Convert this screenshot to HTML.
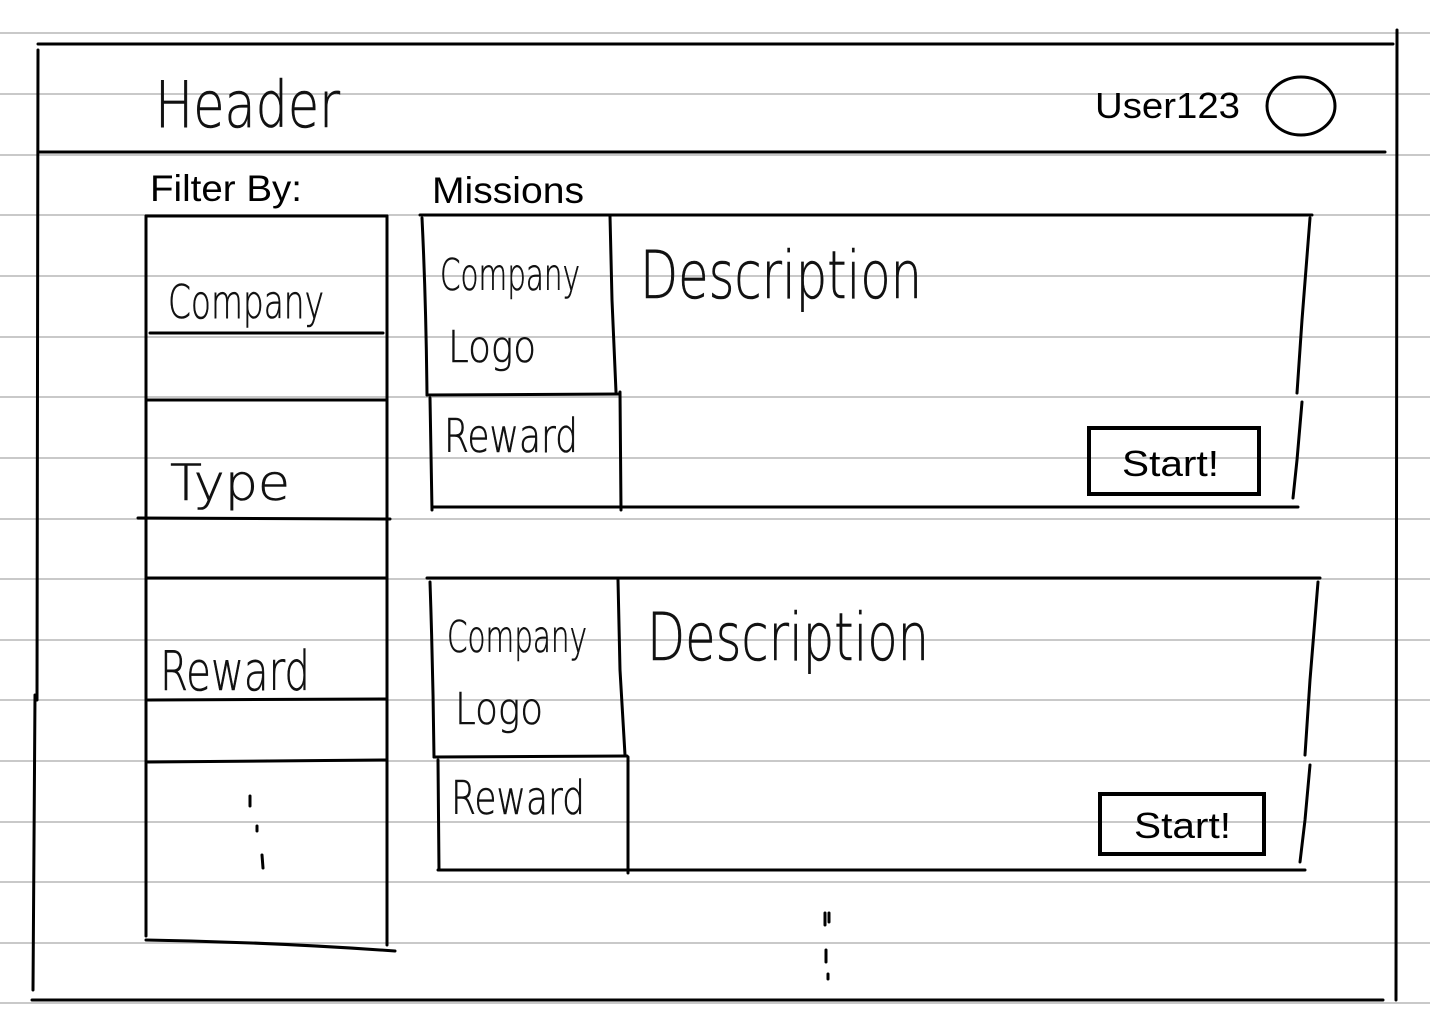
<!DOCTYPE html>
<html><head><meta charset="utf-8"><style>
html,body{margin:0;padding:0;background:#fff;width:1430px;height:1018px;overflow:hidden}
svg{display:block}
.h{font-family:"DejaVu Sans","Liberation Sans",sans-serif;font-weight:200;fill:#111;stroke:#111;stroke-width:0.6}
.t{font-family:"Liberation Sans",sans-serif;fill:#000}
</style></head><body>
<svg width="1430" height="1018" viewBox="0 0 1430 1018" xmlns="http://www.w3.org/2000/svg">
<g stroke="#c9c9c9" stroke-width="2">
<line x1="0" y1="33" x2="1430" y2="33"/>
<line x1="0" y1="94" x2="1430" y2="94"/>
<line x1="0" y1="155" x2="1430" y2="155"/>
<line x1="0" y1="215" x2="1430" y2="215"/>
<line x1="0" y1="276" x2="1430" y2="276"/>
<line x1="0" y1="337" x2="1430" y2="337"/>
<line x1="0" y1="397" x2="1430" y2="397"/>
<line x1="0" y1="458" x2="1430" y2="458"/>
<line x1="0" y1="519" x2="1430" y2="519"/>
<line x1="0" y1="579" x2="1430" y2="579"/>
<line x1="0" y1="640" x2="1430" y2="640"/>
<line x1="0" y1="700" x2="1430" y2="700"/>
<line x1="0" y1="761" x2="1430" y2="761"/>
<line x1="0" y1="822" x2="1430" y2="822"/>
<line x1="0" y1="882" x2="1430" y2="882"/>
<line x1="0" y1="943" x2="1430" y2="943"/>
<line x1="0" y1="1003" x2="1430" y2="1003"/>
</g>
<g stroke="#000" stroke-width="3" fill="none" stroke-linecap="round">
<line x1="38" y1="44" x2="1393" y2="44"/>
<path d="M38 50 L37 700 M35 695 L33 990"/>
<line x1="32" y1="1000" x2="1383" y2="1000"/>
<line x1="1397" y1="30" x2="1396" y2="1000"/>
<line x1="38" y1="152" x2="1385" y2="152"/>
<ellipse cx="1301" cy="106" rx="34" ry="29"/>
<line x1="146" y1="216" x2="146" y2="936"/>
<line x1="387" y1="216" x2="387" y2="945"/>
<line x1="146" y1="216" x2="387" y2="216"/>
<line x1="150" y1="333" x2="383" y2="333"/>
<line x1="146" y1="400" x2="387" y2="400"/>
<line x1="138" y1="518" x2="390" y2="519"/>
<line x1="146" y1="578" x2="387" y2="578"/>
<line x1="148" y1="700" x2="387" y2="699"/>
<line x1="148" y1="762" x2="387" y2="760"/>
<path d="M146 940 Q270 942 395 951"/>
<line x1="420" y1="215" x2="1312" y2="215"/>
<path d="M422 218 Q426 300 427 395 M430 398 L432 510"/>
<path d="M610 216 L612 300 L616 392 M620 392 L621 510"/>
<line x1="427" y1="395" x2="620" y2="394"/>
<line x1="432" y1="507" x2="1298" y2="507"/>
<path d="M1310 218 L1302 320 L1297 393 M1302 402 L1297 460 L1293 498"/>
<rect x="1089" y="428" width="170" height="66" stroke-width="4"/>
<line x1="427" y1="578" x2="1320" y2="578"/>
<path d="M430 582 Q433 670 434 757 M438 760 L439 870"/>
<path d="M618 580 L620 670 L625 755 M628 757 L628 873"/>
<line x1="434" y1="757" x2="627" y2="756"/>
<line x1="438" y1="870" x2="1305" y2="870"/>
<path d="M1318 582 L1310 680 L1305 755 M1310 765 L1305 820 L1300 862"/>
<rect x="1100" y="794" width="164" height="60" stroke-width="4"/>
<path d="M250 796 L250 806 M257 826 L257 831 M262 855 L263 868"/>
<path d="M825 913 L825 925 M829 913 L829 922 M826 950 L826 962 M828 974 L828 979"/>
</g>
<text class="h" x="155" y="127" font-size="64" textLength="185" lengthAdjust="spacingAndGlyphs">Header</text>
<text class="t" x="1095" y="118" font-size="36" textLength="145" lengthAdjust="spacingAndGlyphs">User123</text>
<text class="t" x="150" y="201" font-size="37" textLength="152" lengthAdjust="spacingAndGlyphs">Filter By:</text>
<text class="t" x="432" y="203" font-size="37" textLength="152" lengthAdjust="spacingAndGlyphs">Missions</text>
<text class="h" x="168" y="318" font-size="46" textLength="156" lengthAdjust="spacingAndGlyphs">Company</text>
<text class="h" x="170" y="500" font-size="50" textLength="120" lengthAdjust="spacingAndGlyphs">Type</text>
<text class="h" x="160" y="690" font-size="54" textLength="150" lengthAdjust="spacingAndGlyphs">Reward</text>
<text class="h" x="440" y="290" font-size="44" textLength="140" lengthAdjust="spacingAndGlyphs">Company</text>
<text class="h" x="448" y="362" font-size="44" textLength="88" lengthAdjust="spacingAndGlyphs">Logo</text>
<text class="h" x="444" y="452" font-size="46" textLength="134" lengthAdjust="spacingAndGlyphs">Reward</text>
<text class="h" x="640" y="298" font-size="66" textLength="282" lengthAdjust="spacingAndGlyphs">Description</text>
<text class="t" x="1122" y="476" font-size="36" textLength="97" lengthAdjust="spacingAndGlyphs">Start!</text>
<text class="h" x="447" y="652" font-size="44" textLength="140" lengthAdjust="spacingAndGlyphs">Company</text>
<text class="h" x="455" y="724" font-size="44" textLength="88" lengthAdjust="spacingAndGlyphs">Logo</text>
<text class="h" x="451" y="814" font-size="46" textLength="134" lengthAdjust="spacingAndGlyphs">Reward</text>
<text class="h" x="647" y="660" font-size="66" textLength="282" lengthAdjust="spacingAndGlyphs">Description</text>
<text class="t" x="1134" y="838" font-size="36" textLength="97" lengthAdjust="spacingAndGlyphs">Start!</text>
</svg>
</body></html>
